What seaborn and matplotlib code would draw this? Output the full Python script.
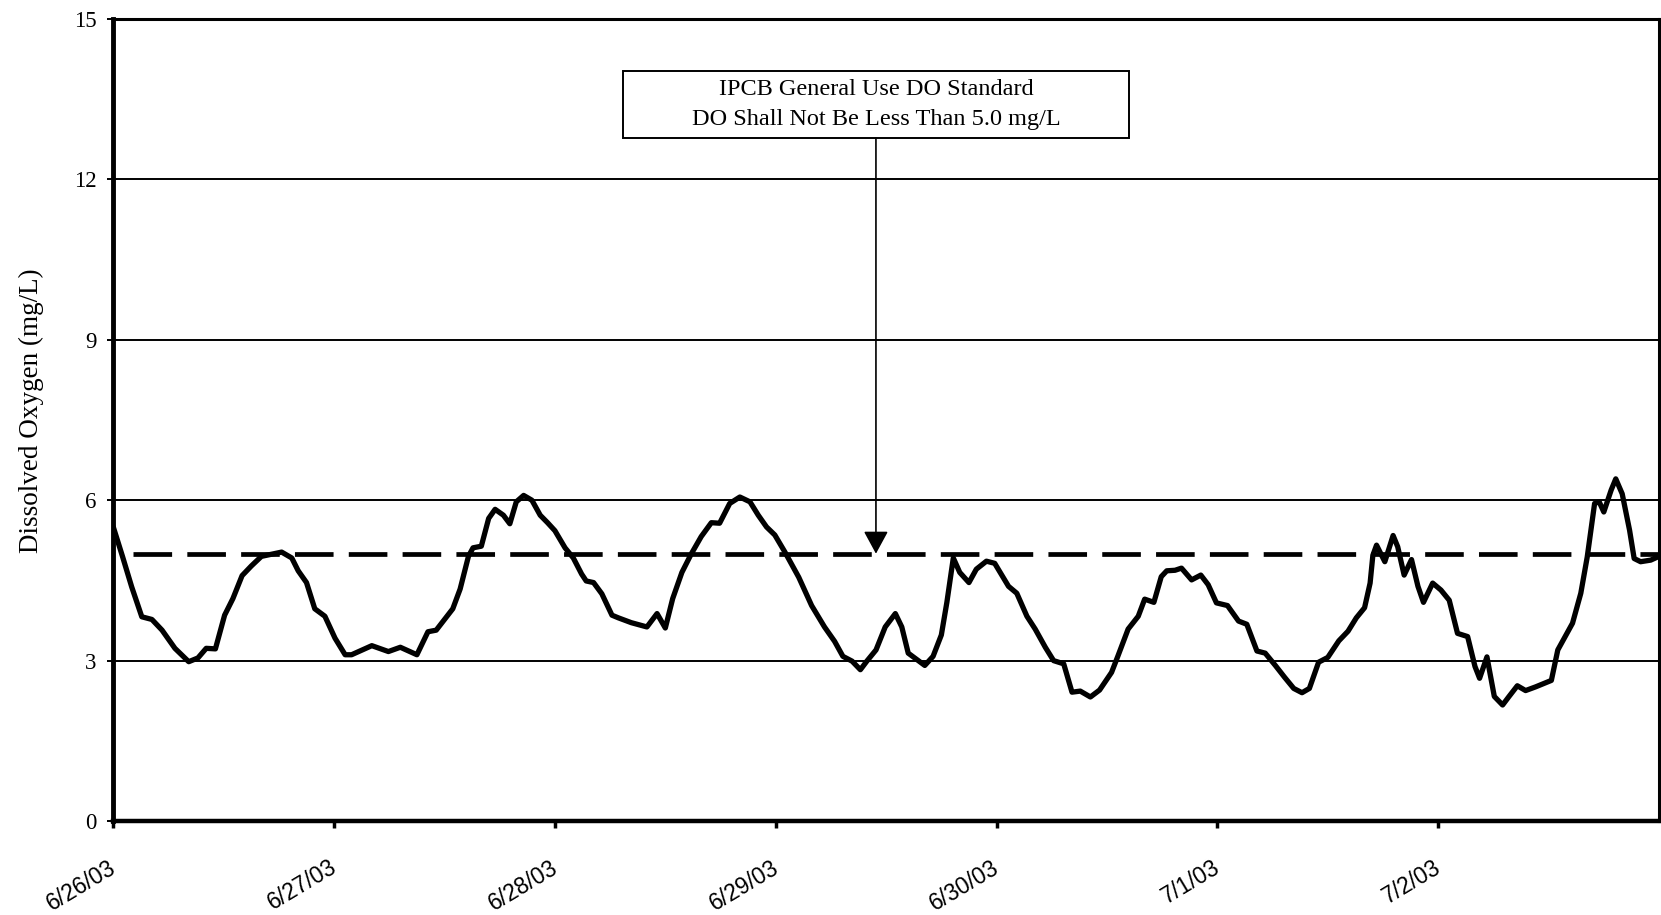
import pandas as pd
import matplotlib
matplotlib.use("Agg")
import matplotlib.pyplot as plt
from matplotlib.patches import Rectangle
from matplotlib.transforms import ScaledTranslation
import seaborn as sns

# hours after 6/26/03 00:00 and dissolved oxygen (mg/L)
hours = [
    0.0, 1.0, 2.0, 3.1, 4.2, 5.3, 6.7, 8.2, 9.2, 10.1, 11.1, 12.1, 13.0, 14.0, 15.0, 16.1, 17.2, 18.3, 19.4, 20.1, 21.0, 21.9, 23.0,
    24.1, 25.2, 25.9, 28.1, 29.9, 31.2, 33.0, 34.2, 35.1, 36.9, 37.7, 38.6, 39.1, 40.0, 40.8, 41.5, 42.4, 43.1, 43.8, 44.6, 45.5, 46.4, 47.2,
    48.0, 49.1, 50.0, 50.9, 51.4, 52.2, 53.1, 54.2, 54.9, 56.3, 58.0, 59.1, 60.0, 60.8, 61.8, 62.8, 63.9, 65.0, 65.9, 67.0, 68.1, 69.2, 70.1, 71.0, 71.9,
    73.0, 74.5, 75.9, 77.3, 78.4, 79.3, 80.3, 81.2, 81.9, 82.9, 83.9, 85.0, 85.7, 86.4, 87.1, 88.2, 89.1, 90.0, 90.6, 91.3, 92.0, 93.0, 93.8, 94.9, 95.8,
    97.3, 98.2, 99.3, 100.2, 101.3, 102.2, 103.3, 104.2, 105.1, 106.2, 107.2, 108.5, 109.2, 110.3, 111.4, 112.1, 113.1, 113.9, 114.5, 115.4, 116.1, 117.2, 118.2, 119.0,
    119.9, 121.1, 122.3, 123.2, 124.3, 125.2, 126.3, 127.3, 128.3, 129.2, 130.0, 131.0, 132.0, 133.2, 134.2, 135.1, 136.0, 136.6, 136.9, 137.3, 138.2, 139.1, 139.6, 140.3, 141.1, 141.8, 142.4, 143.4,
    144.3, 145.2, 146.1, 147.2, 148.0, 148.5, 149.3, 150.1, 151.0, 151.7, 152.6, 153.5, 154.6, 156.3, 157.0, 157.7, 158.6, 159.5, 160.2, 161.0, 161.5, 162.0, 162.8, 163.3, 164.0, 164.8, 165.3, 166.0, 167.1, 168.0,
]
do_mgl = [
    5.50, 4.95, 4.38, 3.82, 3.77, 3.57, 3.23, 2.98, 3.05, 3.23, 3.22, 3.85, 4.16, 4.59, 4.77, 4.95, 4.99, 5.03, 4.92, 4.68, 4.46, 3.97, 3.83,
    3.42, 3.11, 3.11, 3.28, 3.17, 3.25, 3.11, 3.54, 3.57, 3.97, 4.34, 4.95, 5.11, 5.14, 5.66, 5.83, 5.72, 5.56, 5.97, 6.09, 6.00, 5.72, 5.58,
    5.43, 5.11, 4.92, 4.62, 4.49, 4.46, 4.25, 3.85, 3.80, 3.71, 3.63, 3.88, 3.61, 4.16, 4.65, 4.99, 5.32, 5.58, 5.57, 5.94, 6.06, 5.97, 5.72, 5.50, 5.35,
    5.03, 4.56, 4.03, 3.63, 3.36, 3.08, 2.99, 2.83, 2.99, 3.20, 3.63, 3.88, 3.63, 3.14, 3.05, 2.91, 3.08, 3.48, 4.09, 4.92, 4.65, 4.46, 4.71, 4.86, 4.82,
    4.39, 4.26, 3.83, 3.59, 3.25, 3.00, 2.94, 2.41, 2.43, 2.32, 2.45, 2.78, 3.09, 3.59, 3.83, 4.15, 4.09, 4.57, 4.68, 4.69, 4.73, 4.51, 4.60, 4.42,
    4.08, 4.03, 3.74, 3.68, 3.18, 3.14, 2.91, 2.69, 2.48, 2.40, 2.48, 2.97, 3.06, 3.37, 3.55, 3.80, 3.99, 4.45, 4.97, 5.16, 4.85, 5.34, 5.13, 4.60, 4.89, 4.39, 4.09, 4.45,
    4.32, 4.13, 3.51, 3.45, 2.89, 2.67, 3.07, 2.33, 2.17, 2.33, 2.53, 2.44, 2.51, 2.63, 3.20, 3.42, 3.70, 4.26, 4.94, 5.94, 5.97, 5.78, 6.19, 6.40, 6.12, 5.44, 4.91, 4.85, 4.88, 4.95,
]

do_standard = 5.0
y_ticks = [0, 3, 6, 9, 12, 15]
start = pd.Timestamp("2003-06-26")
end = pd.Timestamp("2003-07-03")
day_ticks = pd.date_range(start, periods=7, freq="D")
note_lines = ["IPCB General Use DO Standard", "DO Shall Not Be Less Than 5.0 mg/L"]

df = pd.DataFrame({"time": start + pd.to_timedelta(hours, unit="h"), "do": do_mgl})

sns.set_theme(style="white", rc={
    "axes.edgecolor": "black", "text.color": "black", "axes.labelcolor": "black",
    "xtick.color": "black", "ytick.color": "black",
})
plt.rcParams["font.family"] = ["Liberation Serif", "DejaVu Serif"]
plt.rcParams["lines.scale_dashes"] = False

fig = plt.figure(figsize=(16.61, 9.15), dpi=100)
ax = fig.add_axes([0.0682, 0.1027, 0.9306, 0.8765])

sns.lineplot(data=df, x="time", y="do", color="black", linewidth=3.8,
             solid_joinstyle="round", solid_capstyle="round", ax=ax, zorder=3)
# dashed standard line, starts a little right of the axis
ax.axhline(do_standard, xmin=0.0126, color="black", linewidth=3.4,
           linestyle=(0, (27.8, 10.95)), zorder=2)

ax.set_xlim(start, end)
ax.set_ylim(0, 15)
ax.set_yticks(y_ticks)
ax.yaxis.grid(True, color="black", linewidth=1.4)
ax.xaxis.grid(False)
ax.set_axisbelow(True)

ax.set_xticks(day_ticks)
ax.set_xticklabels([f"{d.month}/{d.day}/{d:%y}" for d in day_ticks])
ax.tick_params(axis="x", bottom=True, direction="out", length=5, width=2.5, pad=20)
ax.tick_params(axis="y", left=True, direction="out", length=4, width=1.4, pad=8, labelsize=16.5)
shift = ScaledTranslation(-0.05, 0, fig.dpi_scale_trans)
for lab in ax.get_xticklabels():
    lab.set_fontfamily("Liberation Sans")
    lab.set_fontsize(16.5)
    lab.set_rotation(31)
    lab.set_ha("right")
    lab.set_va("top")
    lab.set_rotation_mode("anchor")
    lab.set_transform(lab.get_transform() + shift)

ax.set_xlabel("")
ax.set_ylabel("Dissolved Oxygen (mg/L)", fontsize=19.5, labelpad=24)
ax.yaxis.set_label_coords(-0.045, 0.512)

ax.spines["left"].set_linewidth(3.5)
ax.spines["bottom"].set_linewidth(3.2)
ax.spines["top"].set_linewidth(2.2)
ax.spines["right"].set_linewidth(2.2)

# note box with arrow pointing at the standard
box_x, box_y, box_w, box_h = 0.3297, 0.8516, 0.3274, 0.0835
ax.add_patch(Rectangle((box_x, box_y), box_w, box_h, transform=ax.transAxes,
                       facecolor="white", edgecolor="black", linewidth=1.4, zorder=5))
ax.text(box_x + box_w / 2, box_y + box_h / 2, "\n".join(note_lines), transform=ax.transAxes,
        ha="center", va="center", fontsize=17.5, linespacing=1.6, zorder=6)
ax.annotate("", xy=(box_x + box_w / 2, do_standard), xycoords=("axes fraction", "data"),
            xytext=(box_x + box_w / 2, box_y), textcoords="axes fraction",
            arrowprops=dict(arrowstyle="-|>,head_length=0.7,head_width=0.38", mutation_scale=20,
                            color="black", lw=1.2, shrinkA=0, shrinkB=0), zorder=6)

fig.savefig("out.png", dpi=100)
